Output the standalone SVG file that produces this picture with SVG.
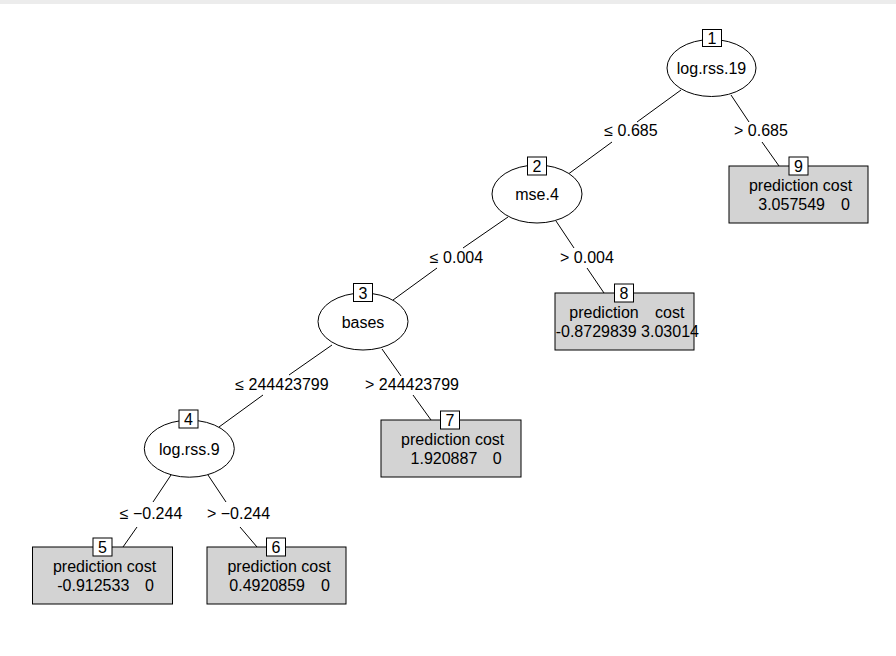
<svg xmlns="http://www.w3.org/2000/svg" width="896" height="656" viewBox="0 0 896 656">
<style>
text { font-family: "Liberation Sans", Arial, sans-serif; font-size: 16px; fill: #000; }
.c { text-anchor: middle; }
.e { text-anchor: end; }
.inner { fill: #fff; stroke: #000; stroke-width: 1; }
.term { fill: #d3d3d3; stroke: #000; stroke-width: 1; }
.lbl { fill: #fff; stroke: #000; stroke-width: 1; }
.edge { stroke: #000; stroke-width: 1; fill: none; }
</style>
<rect x="0" y="0" width="896" height="656" fill="#fff"/>
<rect x="0" y="0" width="896" height="4" fill="#ececec"/>

<g id="connectors">
  <line class="edge" x1="681" y1="90" x2="637" y2="122"/>
  <line class="edge" x1="612" y1="142" x2="567" y2="175"/>
  <line class="edge" x1="731" y1="95" x2="749" y2="122"/>
  <line class="edge" x1="762" y1="142" x2="779" y2="166"/>
  <line class="edge" x1="508" y1="217" x2="463" y2="248"/>
  <line class="edge" x1="437" y1="268" x2="393" y2="300"/>
  <line class="edge" x1="556" y1="221" x2="574" y2="248"/>
  <line class="edge" x1="587" y1="268" x2="604" y2="293"/>
  <line class="edge" x1="332" y1="345" x2="289" y2="375"/>
  <line class="edge" x1="263" y1="395" x2="219" y2="427"/>
  <line class="edge" x1="382" y1="349" x2="401" y2="376"/>
  <line class="edge" x1="413" y1="395" x2="431" y2="420"/>
  <line class="edge" x1="171" y1="475" x2="153" y2="502"/>
  <line class="edge" x1="137" y1="527" x2="123" y2="547"/>
  <line class="edge" x1="208" y1="475" x2="226" y2="502"/>
  <line class="edge" x1="240" y1="527" x2="257" y2="547"/>
  <text class="c" x="631" y="136">≤ 0.685</text>
  <text class="c" x="761" y="136">&gt; 0.685</text>
  <text class="c" x="456.5" y="263">≤ 0.004</text>
  <text class="c" x="587" y="263">&gt; 0.004</text>
  <text class="c" x="282" y="390">≤ 244423799</text>
  <text class="c" x="412" y="390">&gt; 244423799</text>
  <text class="c" x="151" y="518.5">≤ −0.244</text>
  <text class="c" x="238.5" y="518.5">&gt; −0.244</text>
</g>

<g id="node1">
  <ellipse class="inner" cx="711.5" cy="68" rx="44.5" ry="28.5"/>
  <text class="c" x="711.5" y="74">log.rss.19</text>
  <rect class="lbl" x="702.5" y="29.5" width="19" height="17"/>
  <text class="c" x="712" y="44">1</text>
</g>

<g id="node2">
  <ellipse class="inner" cx="537" cy="194" rx="45" ry="29"/>
  <text class="c" x="537" y="200">mse.4</text>
  <rect class="lbl" x="527.5" y="157" width="19" height="18"/>
  <text class="c" x="537" y="172">2</text>
</g>

<g id="node3">
  <ellipse class="inner" cx="363" cy="321.5" rx="45" ry="28.5"/>
  <text class="c" x="363" y="327.5">bases</text>
  <rect class="lbl" x="353.5" y="283.5" width="19" height="18"/>
  <text class="c" x="363" y="298.5">3</text>
</g>

<g id="node4">
  <ellipse class="inner" cx="189.3" cy="448.7" rx="45" ry="28.5"/>
  <text class="c" x="189.3" y="455">log.rss.9</text>
  <rect class="lbl" x="179" y="410" width="19" height="18"/>
  <text class="c" x="188.5" y="425">4</text>
</g>

<g id="node5">
  <rect class="term" x="32.5" y="547" width="140" height="57"/>
  <rect class="lbl" x="93" y="538" width="19" height="18"/>
  <text class="c" x="102.5" y="553">5</text>
  <text class="c" x="104.5" y="571.5">prediction cost</text>
  <text class="e"><tspan x="129.3" y="591">-0.912533</tspan><tspan x="154" y="591">0</tspan></text>
</g>

<g id="node6">
  <rect class="term" x="207" y="547" width="139" height="57"/>
  <rect class="lbl" x="266.5" y="538" width="19" height="18"/>
  <text class="c" x="276" y="553">6</text>
  <text class="c" x="279" y="571.5">prediction cost</text>
  <text class="e"><tspan x="305" y="591">0.4920859</tspan><tspan x="330" y="591">0</tspan></text>
</g>

<g id="node7">
  <rect class="term" x="381" y="420" width="140" height="57"/>
  <rect class="lbl" x="440.5" y="411" width="19" height="18"/>
  <text class="c" x="450" y="426">7</text>
  <text class="c" x="452.7" y="444.5">prediction cost</text>
  <text class="e"><tspan x="477.3" y="464">1.920887</tspan><tspan x="501.7" y="464">0</tspan></text>
</g>

<g id="node8">
  <rect class="term" x="555" y="293" width="139" height="57"/>
  <rect class="lbl" x="614.5" y="284" width="19" height="18"/>
  <text class="c" x="624" y="299">8</text>
  <text><tspan x="569.3" y="317.5">prediction</tspan><tspan x="655" y="317.5">cost</tspan></text>
  <text x="555.7" y="337">-0.8729839 3.03014</text>
</g>

<g id="node9">
  <rect class="term" x="729" y="166" width="139" height="57"/>
  <rect class="lbl" x="789" y="157" width="19" height="18"/>
  <text class="c" x="798.5" y="172">9</text>
  <text class="c" x="800.5" y="190.5">prediction cost</text>
  <text class="e"><tspan x="825" y="210">3.057549</tspan><tspan x="850" y="210">0</tspan></text>
</g>
</svg>
